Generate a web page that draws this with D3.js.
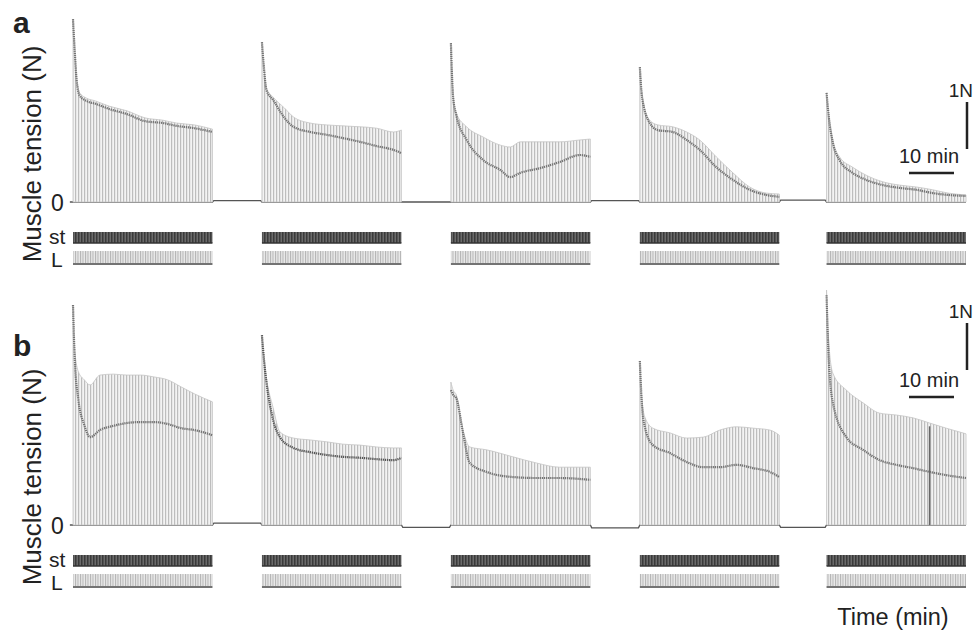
<!DOCTYPE html>
<head>
<meta charset="utf-8">
<title>Muscle tension</title>
<script src="https://d3js.org/d3.v7.min.js"></script>
<style>
  body { margin: 0; background: #fff; }
  text { font-family: "Liberation Sans", Arial, sans-serif; fill: #222; }
</style>
</head>
<body>
<script>

  let width = 977;
  let height = 633;

  // stimulation blocks: start time (min) and duration
  let seg_start = [0, 42, 84, 126, 167.5];
  let seg_len = 31;

  // panel a : time in block (min), twitch peak (N), dense band (N)
  let a_time = [
    [0, 0.4, 0.8, 1.5, 3, 5, 8, 12, 16, 20, 23, 27, 31],
    [0, 0.4, 1, 2.5, 5, 7, 10.7, 14.4, 18, 21.8, 25.5, 29.2, 31],
    [0, 0.5, 1.2, 3.5, 7.2, 11, 13.2, 15.4, 19.8, 24.2, 28.7, 31],
    [0, 0.5, 2.2, 4, 7.3, 10.4, 13.3, 17, 20.7, 24.4, 28.1, 31],
    [0, 0.5, 1.4, 2.9, 5.8, 8.8, 12.5, 16.2, 19.9, 23.6, 27, 31]
  ];
  let a_top = [
    [3.89, 3.23, 2.66, 2.32, 2.21, 2.15, 2.04, 1.94, 1.79, 1.74, 1.68, 1.64, 1.55],
    [3.40, 2.91, 2.43, 2.23, 2.00, 1.81, 1.68, 1.64, 1.62, 1.60, 1.57, 1.49, 1.53],
    [3.38, 2.28, 1.89, 1.60, 1.38, 1.21, 1.17, 1.28, 1.28, 1.28, 1.32, 1.34],
    [2.87, 2.28, 1.74, 1.64, 1.60, 1.49, 1.32, 0.96, 0.62, 0.32, 0.19, 0.17],
    [2.32, 1.85, 1.32, 0.96, 0.74, 0.57, 0.43, 0.36, 0.32, 0.26, 0.19, 0.15]
  ];
  let a_band = [
    [3.89, 3.19, 2.60, 2.26, 2.15, 2.09, 1.98, 1.87, 1.72, 1.68, 1.62, 1.57, 1.49],
    [3.40, 2.91, 2.38, 2.17, 1.79, 1.60, 1.49, 1.43, 1.36, 1.28, 1.19, 1.11, 1.04],
    [3.38, 2.23, 1.85, 1.32, 0.89, 0.68, 0.53, 0.62, 0.72, 0.85, 1.00, 0.96],
    [2.87, 2.23, 1.68, 1.53, 1.49, 1.32, 1.11, 0.74, 0.47, 0.26, 0.15, 0.11],
    [2.32, 1.81, 1.26, 0.89, 0.62, 0.47, 0.36, 0.30, 0.26, 0.19, 0.15, 0.13]
  ];
  // resting level between blocks (N)
  let a_gap = [0.03, 0.0, 0.03, 0.04];

  // panel b
  let b_time = [
    [0, 0.4, 1.2, 2.5, 3.8, 6, 9, 12, 15, 18, 21, 24, 27, 31],
    [0, 0.5, 1, 2.5, 4, 7, 10.7, 14.4, 18, 21.8, 25.5, 29.2, 31],
    [0, 0.5, 1.2, 2.7, 4.2, 7.9, 13.8, 19, 24.2, 31],
    [0, 0.4, 1.1, 2.9, 6.7, 10.4, 14.1, 17.8, 21.5, 25.2, 28.9, 31],
    [0, 0.4, 1.4, 4.4, 8.1, 11.8, 15.5, 19.2, 22.9, 26.6, 31]
  ];
  let b_top = [
    [4.68, 3.72, 3.26, 3.09, 2.98, 3.19, 3.21, 3.19, 3.19, 3.15, 3.09, 2.94, 2.79, 2.62],
    [4.04, 3.51, 3.13, 2.49, 1.98, 1.85, 1.81, 1.77, 1.72, 1.70, 1.66, 1.64, 1.64],
    [3.04, 2.87, 2.77, 2.02, 1.66, 1.60, 1.45, 1.32, 1.23, 1.23],
    [3.49, 2.77, 2.30, 2.06, 1.96, 1.85, 1.87, 2.02, 2.09, 2.06, 2.02, 1.91],
    [5.00, 4.04, 3.23, 2.87, 2.60, 2.38, 2.34, 2.28, 2.17, 2.06, 1.94]
  ];
  let b_band = [
    [4.68, 3.51, 2.66, 2.13, 1.87, 2.02, 2.11, 2.17, 2.19, 2.19, 2.15, 2.06, 2.02, 1.91],
    [4.04, 3.47, 3.04, 2.23, 1.87, 1.64, 1.55, 1.49, 1.45, 1.43, 1.40, 1.38, 1.43],
    [2.87, 2.77, 2.70, 1.96, 1.32, 1.13, 1.02, 1.00, 1.00, 0.96],
    [3.49, 2.66, 2.09, 1.70, 1.53, 1.34, 1.23, 1.23, 1.28, 1.21, 1.13, 1.02],
    [4.89, 3.72, 2.60, 1.87, 1.60, 1.38, 1.28, 1.21, 1.13, 1.06, 1.00]
  ];
  let b_gap = [0.04, -0.05, -0.06, -0.05];
  // single dark artefact twitch in last block of b
  let b_mark_t = [22.9];
  let b_mark_v = [2.1];

  let svg = d3.select("body").append("svg")
      .attr("width", width)
      .attr("height", height);

  // stripe patterns that give the twitch-by-twitch look
  let defs = svg.append("defs");
  function stripes(id, w, bg, fg, lw) {
    let p = defs.append("pattern")
      .attr("id", id)
      .attr("patternUnits", "userSpaceOnUse")
      .attr("width", w).attr("height", 20);
    p.append("rect").attr("width", w).attr("height", 20).attr("fill", bg);
    p.append("rect").attr("width", lw).attr("height", 20).attr("fill", fg);
  }
  stripes("spk", 3, "#f3f3f3", "#bdbdbd", 1.2);
  stripes("stp", 3, "#6a6a6a", "#3a3a3a", 1.5);
  stripes("lp", 2.5, "#e9e9e9", "#b3b3b3", 1);

  let x = d3.scaleLinear().domain([0, 198.5]).range([73, 966]);

  let panels = [
    {name: "a", oy: 0, time: a_time, top: a_top, band: a_band, gap: a_gap,
     y: d3.scaleLinear().domain([0, 4]).range([202, 202 - 4 * 47]),
     scale_top: 102, min_y: 173, mark_t: [], mark_v: []},
    {name: "b", oy: 323, time: b_time, top: b_top, band: b_band, gap: b_gap,
     y: d3.scaleLinear().domain([0, 5]).range([525, 525 - 5 * 47]),
     scale_top: 323, min_y: 397, mark_t: b_mark_t, mark_v: b_mark_v}
  ];

  panels.forEach(function(p) {
    let g = svg.append("g").attr("id", "panel_" + p.name);
    let y = p.y;

    // resting baseline through the gaps
    let base = [[seg_start[0] - 0.7, 0]];
    for (let i = 0; i < seg_start.length; i++) {
      let lv = i < p.gap.length ? p.gap[i] : 0;
      base.push([seg_start[i], 0]);
      base.push([seg_start[i] + seg_len, 0]);
      if (i < p.gap.length) {
        base.push([seg_start[i] + seg_len + 0.3, lv]);
        base.push([seg_start[i + 1] - 0.3, lv]);
      }
    }
    g.append("path")
      .datum(base)
      .attr("d", d3.line().x(d => x(d[0])).y(d => y(d[1])))
      .attr("fill", "none")
      .attr("stroke", "#555")
      .attr("stroke-width", 1.3);

    for (let i = 0; i < seg_start.length; i++) {
      let pts = p.time[i].map((t, k) => ({t: seg_start[i] + t, top: p.top[i][k], band: p.band[i][k]}));

      g.append("path")
        .datum(pts)
        .attr("d", d3.area().curve(d3.curveMonotoneX)
          .x(d => x(d.t)).y0(y(0)).y1(d => y(d.top)))
        .attr("fill", "url(#spk)")
        .attr("stroke", "#c4c4c4")
        .attr("stroke-width", 0.8);

      g.append("path")
        .datum(pts)
        .attr("d", d3.line().curve(d3.curveMonotoneX)
          .x(d => x(d.t)).y(d => y(d.band)))
        .attr("fill", "none")
        .attr("stroke", (p.name == "b" && i == 1) ? "#555" : "#747474")
        .attr("stroke-width", 2.2)
        .attr("stroke-dasharray", "1.3,0.8");

      // stimulation (st) and length (L) bars
      g.append("rect")
        .attr("x", x(seg_start[i])).attr("y", 232 + p.oy)
        .attr("width", x(seg_start[i] + seg_len) - x(seg_start[i])).attr("height", 11)
        .attr("fill", "url(#stp)");
      g.append("line")
        .attr("x1", x(seg_start[i])).attr("x2", x(seg_start[i] + seg_len))
        .attr("y1", 243 + p.oy).attr("y2", 243 + p.oy)
        .attr("stroke", "#333").attr("stroke-width", 1.4);
      g.append("rect")
        .attr("x", x(seg_start[i])).attr("y", 251 + p.oy)
        .attr("width", x(seg_start[i] + seg_len) - x(seg_start[i])).attr("height", 12)
        .attr("fill", "url(#lp)");
      g.append("line")
        .attr("x1", x(seg_start[i])).attr("x2", x(seg_start[i] + seg_len))
        .attr("y1", 264 + p.oy).attr("y2", 264 + p.oy)
        .attr("stroke", "#444").attr("stroke-width", 1.5);
    }

    p.mark_t.forEach(function(t, k) {
      g.append("line")
        .attr("x1", x(seg_start[4] + t)).attr("x2", x(seg_start[4] + t))
        .attr("y1", y(0)).attr("y2", y(p.mark_v[k]))
        .attr("stroke", "#666").attr("stroke-width", 1.5);
    });

    // labels
    g.append("text").text(p.name)
      .attr("x", 13).attr("y", 33 + p.oy)
      .style("font-size", "30px").style("font-weight", "bold");
    g.append("text").text("Muscle tension (N)")
      .attr("text-anchor", "middle")
      .attr("transform", "translate(41," + (154 + p.oy) + ") rotate(-90)")
      .style("font-size", "26px");
    g.append("text").text("0")
      .attr("x", 51).attr("y", y(0) + 9)
      .style("font-size", "23px");
    g.append("text").text("st")
      .attr("x", 49).attr("y", 244 + p.oy)
      .style("font-size", "21px");
    g.append("text").text("L")
      .attr("x", 51).attr("y", 267 + p.oy)
      .style("font-size", "21px");

    // scale bars: 1 N and 10 min
    g.append("line")
      .attr("x1", 967).attr("x2", 967)
      .attr("y1", p.scale_top).attr("y2", p.scale_top + (y(0) - y(1)))
      .attr("stroke", "#222").attr("stroke-width", 2.5);
    g.append("text").text("1N")
      .attr("x", 973).attr("y", p.scale_top - 5)
      .attr("text-anchor", "end")
      .style("font-size", "19px");
    g.append("line")
      .attr("x1", 909).attr("x2", 909 + x(10) - x(0))
      .attr("y1", p.min_y).attr("y2", p.min_y)
      .attr("stroke", "#222").attr("stroke-width", 2.5);
    g.append("text").text("10 min")
      .attr("x", 929).attr("y", p.min_y - 10)
      .attr("text-anchor", "middle")
      .style("font-size", "20px");
  });

  svg.append("text").text("Time (min)")
    .attr("x", 893).attr("y", 625)
    .attr("text-anchor", "middle")
    .style("font-size", "23.5px");

</script>
</body>
